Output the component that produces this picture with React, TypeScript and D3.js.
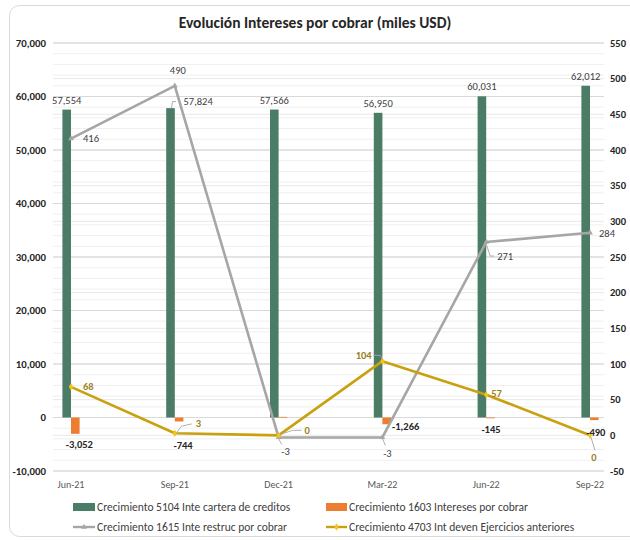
import React from "react";
import * as d3 from "d3";

// ---- data ----
const categories = ["Jun-21", "Sep-21", "Dec-21", "Mar-22", "Jun-22", "Sep-22"];
const serieCartera = [57554, 57824, 57566, 56950, 60031, 62012]; // Crecimiento 5104 (left axis)
const serieIntereses = [-3052, -744, 120, -1266, -145, -490]; // Crecimiento 1603 (left axis)
const serieRestruc = [416, 490, -3, -3, 271, 284]; // Crecimiento 1615 (right axis)
const serieEjercicios = [68, 3, 0, 104, 57, 0]; // Crecimiento 4703 (right axis)
const leftTicks = [-10000, 0, 10000, 20000, 30000, 40000, 50000, 60000, 70000];
const rightTicks = [-50, 0, 50, 100, 150, 200, 250, 300, 350, 400, 450, 500, 550];
const seriesNames = [
  "Crecimiento 5104 Inte cartera de creditos",
  "Crecimiento 1603 Intereses por cobrar",
  "Crecimiento 1615 Inte restruc por cobrar",
  "Crecimiento 4703 Int deven Ejercicios anteriores",
];
const title = "Evolución Intereses por cobrar (miles USD)";

// ---- label placement (offsets relative to the data point) ----
type Lab = { dx: number; dy: number; anchor: string; leader?: [number, number][] } | null;
const carteraLabels: Lab[] = [
  { dx: 0, dy: -9, anchor: "middle" },
  { dx: 13, dy: -6.6, anchor: "start", leader: [[1, 0], [2, -6.6], [5.5, -6.6]] },
  { dx: 0, dy: -9.5, anchor: "middle" },
  { dx: 0, dy: -9.5, anchor: "middle" },
  { dx: 0, dy: -9.5, anchor: "middle" },
  { dx: 0, dy: -9.5, anchor: "middle" },
];
const interesesLabels: Lab[] = [
  { dx: 4, dy: 11, anchor: "middle" },
  { dx: 4, dy: 24, anchor: "middle" },
  null,
  { dx: 19, dy: 2, anchor: "middle" },
  { dx: 0.5, dy: 11.5, anchor: "middle" },
  { dx: 1.5, dy: 12, anchor: "middle" },
];
const restrucLabels: Lab[] = [
  { dx: 12, dy: 0, anchor: "start" },
  { dx: 3, dy: -15, anchor: "middle" },
  { dx: 7, dy: 14, anchor: "middle", leader: [[0, 1], [3, 7]] },
  { dx: 5, dy: 16, anchor: "middle", leader: [[0, 1], [3, 8]] },
  { dx: 11, dy: 14, anchor: "start", leader: [[0, 2], [4, 14], [8, 14]] },
  { dx: 9, dy: 1, anchor: "start" },
];
const ejerciciosLabels: Lab[] = [
  { dx: 12, dy: 0, anchor: "start" },
  { dx: 21, dy: -9.3, anchor: "start", leader: [[1.7, -0.5], [6.7, -7], [17, -9.3]] },
  { dx: 26, dy: -5, anchor: "start", leader: [[2, -1], [14, -5], [23, -5]] },
  { dx: -10.7, dy: -5.8, anchor: "end", leader: [[-9, -5.8], [-2, -5.8], [0, -1]] },
  { dx: 5, dy: -1, anchor: "start" },
  { dx: 4, dy: 22, anchor: "middle", leader: [[1, 2], [5, 15]] },
];

// ---- styles ----
const W = 630;
const H = 540;
const FONT = "Carlito, Lato, 'Liberation Sans', sans-serif";
const GREEN = "#4b7c66";
const ORANGE = "#ed7d31";
const GRAY = "#a6a6a6";
const GOLD = "#c9a10f";
const GOLD_MARK = "#f2c41c";
const GOLD_TEXT = "#9e7f26";
const TEXT = "#404040";

const fmtBase = d3.format(",");
const fmt = (v: number) => fmtBase(v).replace("\u2212", "-");

export default function App() {
  const plotLeft = 53;
  const plotRight = 604;
  const yL = d3.scaleLinear().domain([-10000, 70000]).range([471, 43]);
  const yR = d3.scaleLinear().domain([-50, 550]).range([471, 43]);
  const x = d3.scalePoint<string>().domain(categories).range([71, 590]);
  const barW = 8.6;

  const minorTicks = d3.range(-10000, 70001, 2000);

  const lineR = d3
    .line<number>()
    .x((_, i) => x(categories[i]) as number)
    .y((v) => yR(v));

  const tri = d3.symbol().type(d3.symbolTriangle).size(14)();
  const dia = d3.symbol().type(d3.symbolDiamond).size(16)();

  const renderLabel = (
    lab: Lab,
    px: number,
    py: number,
    text: string,
    color: string,
    weight: number,
    key: string
  ) => {
    if (!lab) return null;
    return (
      <g key={key}>
        {lab.leader && (
          <polyline
            points={lab.leader.map(([a, b]) => `${px + a},${py + b}`).join(" ")}
            fill="none"
            stroke={GRAY}
            strokeWidth={0.9}
          />
        )}
        <text
          x={px + lab.dx}
          y={py + lab.dy}
          textAnchor={lab.anchor as any}
          dominantBaseline="central"
          fontSize={10.5}
          fontWeight={weight}
          fill={color}
        >
          {text}
        </text>
      </g>
    );
  };

  return (
    <div style={{ position: "absolute", left: 0, top: 0 }}>
      <svg width={W} height={H} style={{ display: "block", fontFamily: FONT }}>
        <rect x={0} y={0} width={W} height={H} fill="#ffffff" />
        <rect x={9.5} y={5.5} width={660} height={531} rx={10} fill="#ffffff" stroke="#d9d9d9" strokeWidth={1} />

        {/* title */}
        <text x={315} y={22} textAnchor="middle" dominantBaseline="central" fontSize={15.5} fontWeight={700} fill="#262626">
          {title}
        </text>

        {/* gridlines */}
        {minorTicks.map((t) => (
          <line key={"mn" + t} x1={plotLeft} x2={plotRight} y1={yL(t)} y2={yL(t)} stroke="#efefef" strokeWidth={1} />
        ))}
        {rightTicks.map((t) => (
          <line key={"rg" + t} x1={plotLeft} x2={plotRight} y1={yR(t)} y2={yR(t)} stroke="#e8e8e8" strokeWidth={1} />
        ))}
        {leftTicks.map((t) => (
          <line key={"mj" + t} x1={plotLeft} x2={plotRight} y1={yL(t)} y2={yL(t)} stroke="#d9d9d9" strokeWidth={1} />
        ))}

        {/* left axis labels */}
        {leftTicks.map((t) => (
          <text key={"lt" + t} x={46} y={yL(t)} textAnchor="end" dominantBaseline="central" fontSize={10.8} fontWeight={700} fill="#262626">
            {fmt(t)}
          </text>
        ))}
        {/* right axis labels */}
        {rightTicks.map((t) => (
          <text key={"rt" + t} x={610} y={yR(t)} textAnchor="start" dominantBaseline="central" fontSize={10.5} fontWeight={700} fill="#262626">
            {fmt(t)}
          </text>
        ))}
        {/* x labels */}
        {categories.map((c) => (
          <text key={"xc" + c} x={x(c)} y={484} textAnchor="middle" dominantBaseline="central" fontSize={10} fill="#595959">
            {c}
          </text>
        ))}

        {/* bars */}
        {serieCartera.map((v, i) => (
          <rect
            key={"g" + i}
            x={(x(categories[i]) as number) - barW}
            y={Math.min(yL(v), yL(0))}
            width={barW}
            height={Math.abs(yL(v) - yL(0))}
            fill={GREEN}
          />
        ))}
        {serieIntereses.map((v, i) => (
          <rect
            key={"o" + i}
            x={x(categories[i]) as number}
            y={Math.min(yL(v), yL(0))}
            width={barW}
            height={Math.max(0.8, Math.abs(yL(v) - yL(0)))}
            fill={ORANGE}
          />
        ))}

        {/* gray line */}
        <path d={lineR(serieRestruc) || ""} fill="none" stroke={GRAY} strokeWidth={2.6} strokeLinejoin="round" />
        {serieRestruc.map((v, i) => (
          <path key={"gm" + i} d={tri || ""} transform={`translate(${x(categories[i])},${yR(v)})`} fill={GRAY} />
        ))}
        {/* gold line */}
        <path d={lineR(serieEjercicios) || ""} fill="none" stroke={GOLD} strokeWidth={2.6} strokeLinejoin="round" />
        {serieEjercicios.map((v, i) => (
          <path key={"ym" + i} d={dia || ""} transform={`translate(${x(categories[i])},${yR(v)})`} fill={GOLD_MARK} />
        ))}

        {/* data labels */}
        {serieCartera.map((v, i) =>
          renderLabel(carteraLabels[i], (x(categories[i]) as number) - barW / 2, yL(v), fmt(v), TEXT, 400, "lg" + i)
        )}
        {serieIntereses.map((v, i) =>
          renderLabel(interesesLabels[i], (x(categories[i]) as number) + barW / 2, yL(v), fmt(v), "#262626", 700, "lo" + i)
        )}
        {serieRestruc.map((v, i) =>
          renderLabel(restrucLabels[i], x(categories[i]) as number, yR(v), fmt(v), TEXT, 400, "lr" + i)
        )}
        {serieEjercicios.map((v, i) =>
          renderLabel(ejerciciosLabels[i], x(categories[i]) as number, yR(v), fmt(v), GOLD_TEXT, 600, "le" + i)
        )}

        {/* legend */}
        <g fontSize={11.5} fill={TEXT}>
          <rect x={73} y={503} width={22} height={8} fill={GREEN} />
          <text x={97} y={507} dominantBaseline="central">{seriesNames[0]}</text>
          <rect x={326} y={503} width={21} height={8} fill={ORANGE} />
          <text x={349} y={507} dominantBaseline="central">{seriesNames[1]}</text>
          <line x1={73} x2={95} y1={527} y2={527} stroke={GRAY} strokeWidth={2.4} />
          <path d={tri || ""} transform="translate(84,527)" fill={GRAY} />
          <text x={97} y={527} dominantBaseline="central">{seriesNames[2]}</text>
          <line x1={326} x2={347} y1={527} y2={527} stroke={GOLD} strokeWidth={2.4} />
          <path d={dia || ""} transform="translate(336.5,527)" fill={GOLD_MARK} />
          <text x={349} y={527} dominantBaseline="central">{seriesNames[3]}</text>
        </g>
      </svg>
    </div>
  );
}
